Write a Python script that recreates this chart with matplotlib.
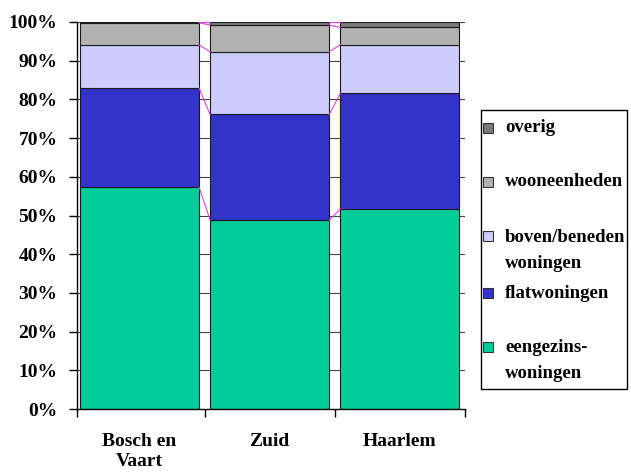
import matplotlib
matplotlib.use("Agg")
import matplotlib.pyplot as plt
import numpy as np
from matplotlib.patches import Rectangle

# Housing stock composition per area (percent of dwellings)
categories = ["Bosch en\nVaart", "Zuid", "Haarlem"]
series_names = ["eengezins-\nwoningen", "flatwoningen", "boven/beneden\nwoningen",
                "wooneenheden", "overig"]
eengezins = [57.3, 48.8, 51.7]
flat = [25.6, 27.3, 29.9]
boven_beneden = [11.2, 16.2, 12.5]
wooneenheden = [5.7, 6.9, 4.5]
overig = [0.2, 0.8, 1.4]
y_ticks = [0, 10, 20, 30, 40, 50, 60, 70, 80, 90, 100]

colors = ["#00CC99", "#3333CC", "#CCCCFF", "#B2B2B2", "#7A7A7A"]
series = [eengezins, flat, boven_beneden, wooneenheden, overig]

W, H = 631, 474
fig = plt.figure(figsize=(W / 100, H / 100), dpi=100)
ax = fig.add_axes([77 / W, 1 - 409 / H, (465 - 77) / W, (409 - 22) / H])

serif = "Liberation Serif"
x = np.arange(len(categories))
width = 0.915
bottom = np.zeros(len(categories))
tops = []
for vals, col in zip(series, colors):
    vals = np.array(vals, dtype=float)
    ax.bar(x, vals, width, bottom=bottom, color=col, edgecolor="#1a1a1a",
           linewidth=0.8, zorder=2)
    bottom = bottom + vals
    tops.append(bottom.copy())

# series lines between neighbouring bars
for lvl in tops:
    for i in range(len(categories) - 1):
        ax.plot([x[i] + width / 2, x[i + 1] - width / 2], [lvl[i], lvl[i + 1]],
                color="#E040E0", linewidth=0.8, zorder=3)

ax.set_xlim(-0.48, len(categories) - 0.5)
ax.set_ylim(0, 100)
ax.set_yticks(y_ticks)
ax.set_yticklabels([f"{t}%" for t in y_ticks], fontfamily=serif,
                   fontweight="bold", fontsize=14)
for t in y_ticks[1:]:
    ax.axhline(t, color="#444444", linewidth=0.8, zorder=1)

ax.set_xticks(x)
ax.set_xticklabels(categories, fontfamily=serif, fontweight="bold", fontsize=14,
                   linespacing=1.25, va="top")
ax.set_xticks([-0.48, 0.5, 1.5, 2.5], minor=True)
ax.tick_params(axis="x", which="major", length=0, pad=17)
ax.tick_params(axis="x", which="minor", length=6, width=1, direction="out")
ax.tick_params(axis="y", length=6, width=1, direction="out", pad=8)

for s in ["top", "right"]:
    ax.spines[s].set_visible(False)
for s in ["left", "bottom"]:
    ax.spines[s].set_linewidth(1)
    ax.spines[s].set_color("black")

# legend box drawn in pixel coordinates of the figure
def fx(px):
    return px / W

def fy(py):
    return 1 - py / H

fig.patches.append(Rectangle((fx(481), fy(389)), fx(627) - fx(481), fy(110) - fy(389),
                             transform=fig.transFigure, facecolor="white",
                             edgecolor="black", linewidth=1))
legend_rows = [
    (4, 128, [128]),
    (3, 182, [182]),
    (2, 236, [237, 263]),
    (1, 293, [293]),
    (0, 347, [348, 373]),
]
for idx, sq_y, line_ys in legend_rows:
    fig.patches.append(Rectangle((fx(483), fy(sq_y + 5)), 10 / W, 10 / H,
                                 transform=fig.transFigure, facecolor=colors[idx],
                                 edgecolor="#333333", linewidth=0.8))
    for line, ly in zip(series_names[idx].split("\n"), line_ys):
        fig.text(fx(505), fy(ly), line, fontfamily=serif, fontweight="bold",
                 fontsize=13.5, va="center", ha="left")

fig.savefig("out.png", dpi=100)
